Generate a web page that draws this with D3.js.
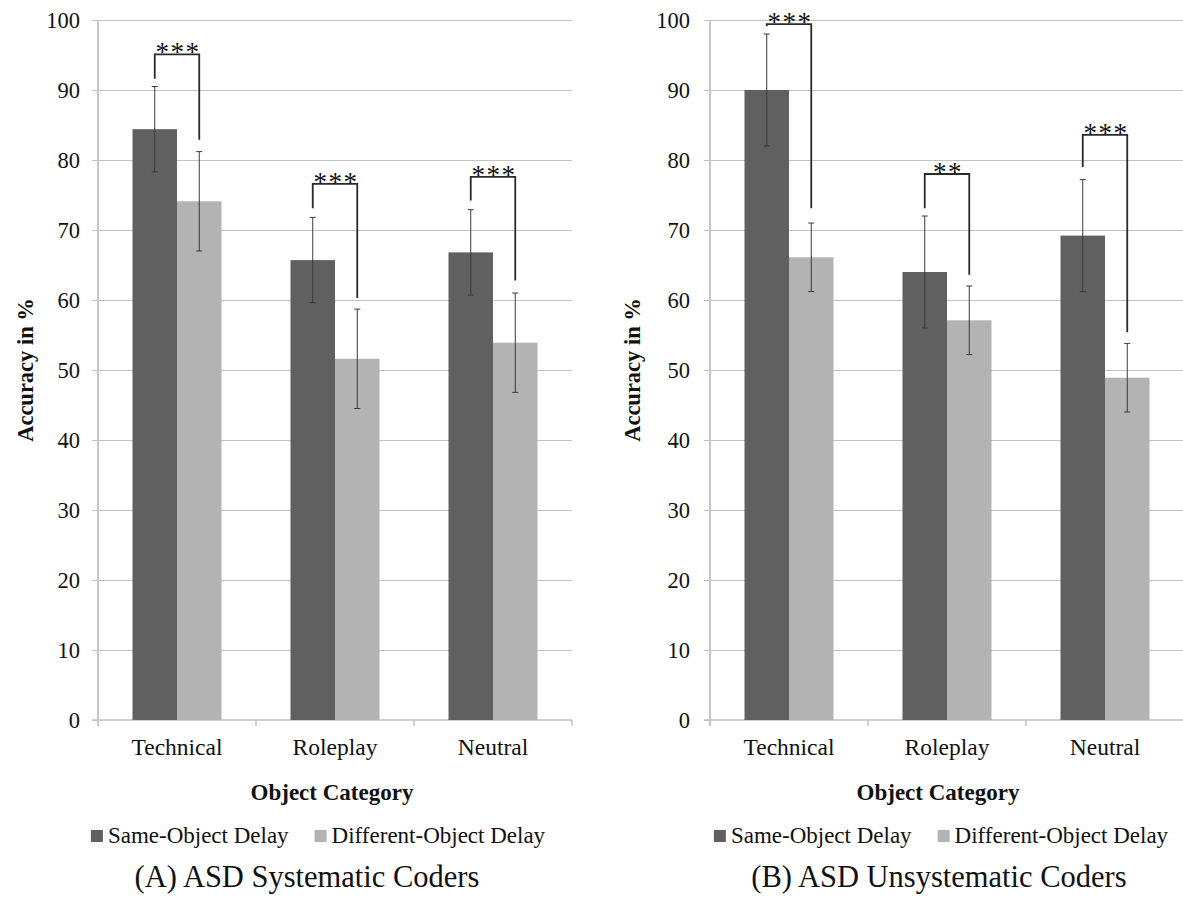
<!DOCTYPE html>
<html>
<head>
<meta charset="utf-8">
<script src="https://cdn.jsdelivr.net/npm/d3@7"></script>
<style>
  body { margin: 0; background: #fff; }
  text { font-family: "Liberation Serif", "Times New Roman", serif; fill: #111; }
</style>
</head>
<body>
<script>
// data
const categories = ['Technical', 'Roleplay', 'Neutral'];
const series = ['Same-Object Delay', 'Different-Object Delay'];
const yTicks = [0, 10, 20, 30, 40, 50, 60, 70, 80, 90, 100];

// (A) systematic coders
const sysSame = [84.4, 65.7, 66.8];
const sysSameErr = [6.1, 6.1, 6.1];
const sysDiff = [74.1, 51.6, 53.9];
const sysDiffErr = [7.1, 7.1, 7.1];
const sysBracketLeft = [91.6, 73.1, 74.2];
const sysBracketTop = [95.1, 76.6, 77.6];
const sysBracketRight = [82.9, 60.3, 62.8];
const sysStars = ['***', '***', '***'];

// (B) unsystematic coders
const unsysSame = [90.0, 64.0, 69.2];
const unsysSameErr = [8.0, 8.0, 8.0];
const unsysDiff = [66.1, 57.1, 48.9];
const unsysDiffErr = [4.9, 4.9, 4.9];
const unsysBracketLeft = [99.1, 73.1, 79.0];
const unsysBracketTop = [99.4, 78.0, 83.6];
const unsysBracketRight = [73.1, 63.6, 55.4];
const unsysStars = ['***', '**', '***'];

const colors = ['#606060', '#b3b3b3'];

const svg = d3.select('body').append('svg')
    .attr('width', 1183)
    .attr('height', 897);

svg.append('rect')
    .attr('width', 1183)
    .attr('height', 897)
    .attr('fill', '#fff');

function drawPanel(opt) {
    const g = svg.append('g');
    const left = opt.left, right = opt.right, top = 20, bottom = 720;

    const y = d3.scaleLinear().domain([0, 100]).range([bottom, top]);
    const x0 = d3.scaleBand().domain(categories).range([left, right]).padding(0);
    const x1 = d3.scaleBand().domain(series).range([0, x0.bandwidth()])
        .paddingInner(0).paddingOuter(0.775);

    // gridlines
    g.append('g')
        .attr('transform', `translate(${left},0)`)
        .call(d3.axisLeft(y).tickValues(yTicks.slice(1)).tickSize(-(right - left)).tickFormat(''))
        .call(s => s.select('.domain').remove())
        .call(s => s.selectAll('line').attr('stroke', '#c2c2c2').attr('stroke-width', 1));

    // y axis ticks + labels
    g.append('g')
        .attr('transform', `translate(${left},0)`)
        .call(d3.axisLeft(y).tickValues(yTicks).tickSize(6).tickPadding(opt.tickPad))
        .call(s => s.select('.domain').remove())
        .call(s => s.selectAll('line').attr('stroke', '#c2c2c2'))
        .call(s => s.selectAll('text')
            .style('font-family', '"Liberation Serif", serif')
            .style('font-size', '22.5px')
            .attr('fill', '#111'));

    // y axis line
    g.append('line')
        .attr('x1', left).attr('x2', left)
        .attr('y1', top).attr('y2', bottom + 6)
        .attr('stroke', '#c6c6c6')
        .attr('stroke-width', 2);

    // x axis line and boundary ticks
    g.append('line')
        .attr('x1', left - 6).attr('x2', right)
        .attr('y1', bottom).attr('y2', bottom)
        .attr('stroke', '#c2c2c2')
        .attr('stroke-width', 1.5);

    const bounds = categories.map(c => x0(c) + x0.step());
    g.selectAll('.xtick')
        .data(bounds)
        .enter().append('line')
        .attr('x1', d => d).attr('x2', d => d)
        .attr('y1', bottom).attr('y2', bottom + 6)
        .attr('stroke', '#c2c2c2')
        .attr('stroke-width', 1.5);

    // category labels
    g.selectAll('.cat')
        .data(categories)
        .enter().append('text')
        .attr('x', d => x0(d) + x0.bandwidth() / 2)
        .attr('y', 755)
        .attr('text-anchor', 'middle')
        .style('font-size', '23.5px')
        .text(d => d);

    // bars
    const rows = categories.map((c, i) => ({
        cat: c,
        vals: [
            { s: series[0], v: opt.same[i], e: opt.sameErr[i] },
            { s: series[1], v: opt.diff[i], e: opt.diffErr[i] }
        ]
    }));

    const groups = g.selectAll('.grp')
        .data(rows)
        .enter().append('g')
        .attr('transform', d => `translate(${x0(d.cat)},0)`);

    groups.selectAll('rect')
        .data(d => d.vals)
        .enter().append('rect')
        .attr('x', d => x1(d.s))
        .attr('y', d => y(d.v))
        .attr('width', x1.bandwidth())
        .attr('height', d => y(0) - y(d.v))
        .attr('fill', (d, i) => colors[i]);

    // error bars
    const eb = groups.selectAll('.err')
        .data(d => d.vals)
        .enter().append('g')
        .attr('transform', d => `translate(${x1(d.s) + x1.bandwidth() / 2},0)`);

    eb.append('line')
        .attr('y1', d => y(d.v + d.e)).attr('y2', d => y(d.v - d.e))
        .attr('stroke', '#3a3a3a').attr('stroke-width', 1);
    eb.append('line')
        .attr('x1', -3).attr('x2', 3)
        .attr('y1', d => y(d.v + d.e)).attr('y2', d => y(d.v + d.e))
        .attr('stroke', '#3a3a3a').attr('stroke-width', 1);
    eb.append('line')
        .attr('x1', -3).attr('x2', 3)
        .attr('y1', d => y(d.v - d.e)).attr('y2', d => y(d.v - d.e))
        .attr('stroke', '#3a3a3a').attr('stroke-width', 1);

    // significance brackets
    categories.forEach((c, i) => {
        const xa = x0(c) + x1(series[0]) + x1.bandwidth() / 2;
        const xb = x0(c) + x1(series[1]) + x1.bandwidth() / 2;
        const yt = y(opt.bTop[i]);
        g.append('path')
            .attr('d', `M${xa},${y(opt.bLeft[i])}V${yt}H${xb}V${y(opt.bRight[i])}`)
            .attr('fill', 'none')
            .attr('stroke', '#2a2a2a')
            .attr('stroke-width', 1.8);
        g.append('text')
            .attr('x', (xa + xb) / 2 + 1)
            .attr('y', yt + 7)
            .attr('text-anchor', 'middle')
            .style('font-size', '27px')
            .style('letter-spacing', '1.5px')
            .text(opt.stars[i]);
    });

    // y axis title
    g.append('text')
        .attr('transform', `translate(${opt.yTitleX},${(top + bottom) / 2}) rotate(-90)`)
        .attr('text-anchor', 'middle')
        .style('font-size', '22.5px')
        .style('font-weight', 'bold')
        .text('Accuracy in %');

    // x axis title
    g.append('text')
        .attr('x', opt.titleX)
        .attr('y', 800)
        .attr('text-anchor', 'middle')
        .style('font-size', '23px')
        .style('font-weight', 'bold')
        .text('Object Category');

    // legend
    const leg = g.append('g');
    let cx = 0;
    series.forEach((s, i) => {
        leg.append('rect')
            .attr('x', cx).attr('y', 830)
            .attr('width', 12).attr('height', 12)
            .attr('fill', colors[i]);
        const t = leg.append('text')
            .attr('x', cx + 17)
            .attr('y', 843)
            .style('font-size', '23px')
            .text(s);
        cx += 17 + t.node().getComputedTextLength() + 26;
    });
    const legW = cx - 26;
    leg.attr('transform', `translate(${opt.legendX - legW / 2},0)`);

    // caption
    g.append('text')
        .attr('x', opt.captionX)
        .attr('y', 887)
        .attr('text-anchor', 'middle')
        .style('font-size', '30.5px')
        .text(opt.caption);
}

drawPanel({
    left: 98, right: 572, tickPad: 12,
    same: sysSame, sameErr: sysSameErr, diff: sysDiff, diffErr: sysDiffErr,
    bLeft: sysBracketLeft, bTop: sysBracketTop, bRight: sysBracketRight, stars: sysStars,
    yTitleX: 33, titleX: 332, legendX: 318, captionX: 307,
    caption: '(A) ASD Systematic Coders'
});

drawPanel({
    left: 710, right: 1184, tickPad: 14,
    same: unsysSame, sameErr: unsysSameErr, diff: unsysDiff, diffErr: unsysDiffErr,
    bLeft: unsysBracketLeft, bTop: unsysBracketTop, bRight: unsysBracketRight, stars: unsysStars,
    yTitleX: 640, titleX: 938, legendX: 941, captionX: 939,
    caption: '(B) ASD Unsystematic Coders'
});
</script>
</body>
</html>
